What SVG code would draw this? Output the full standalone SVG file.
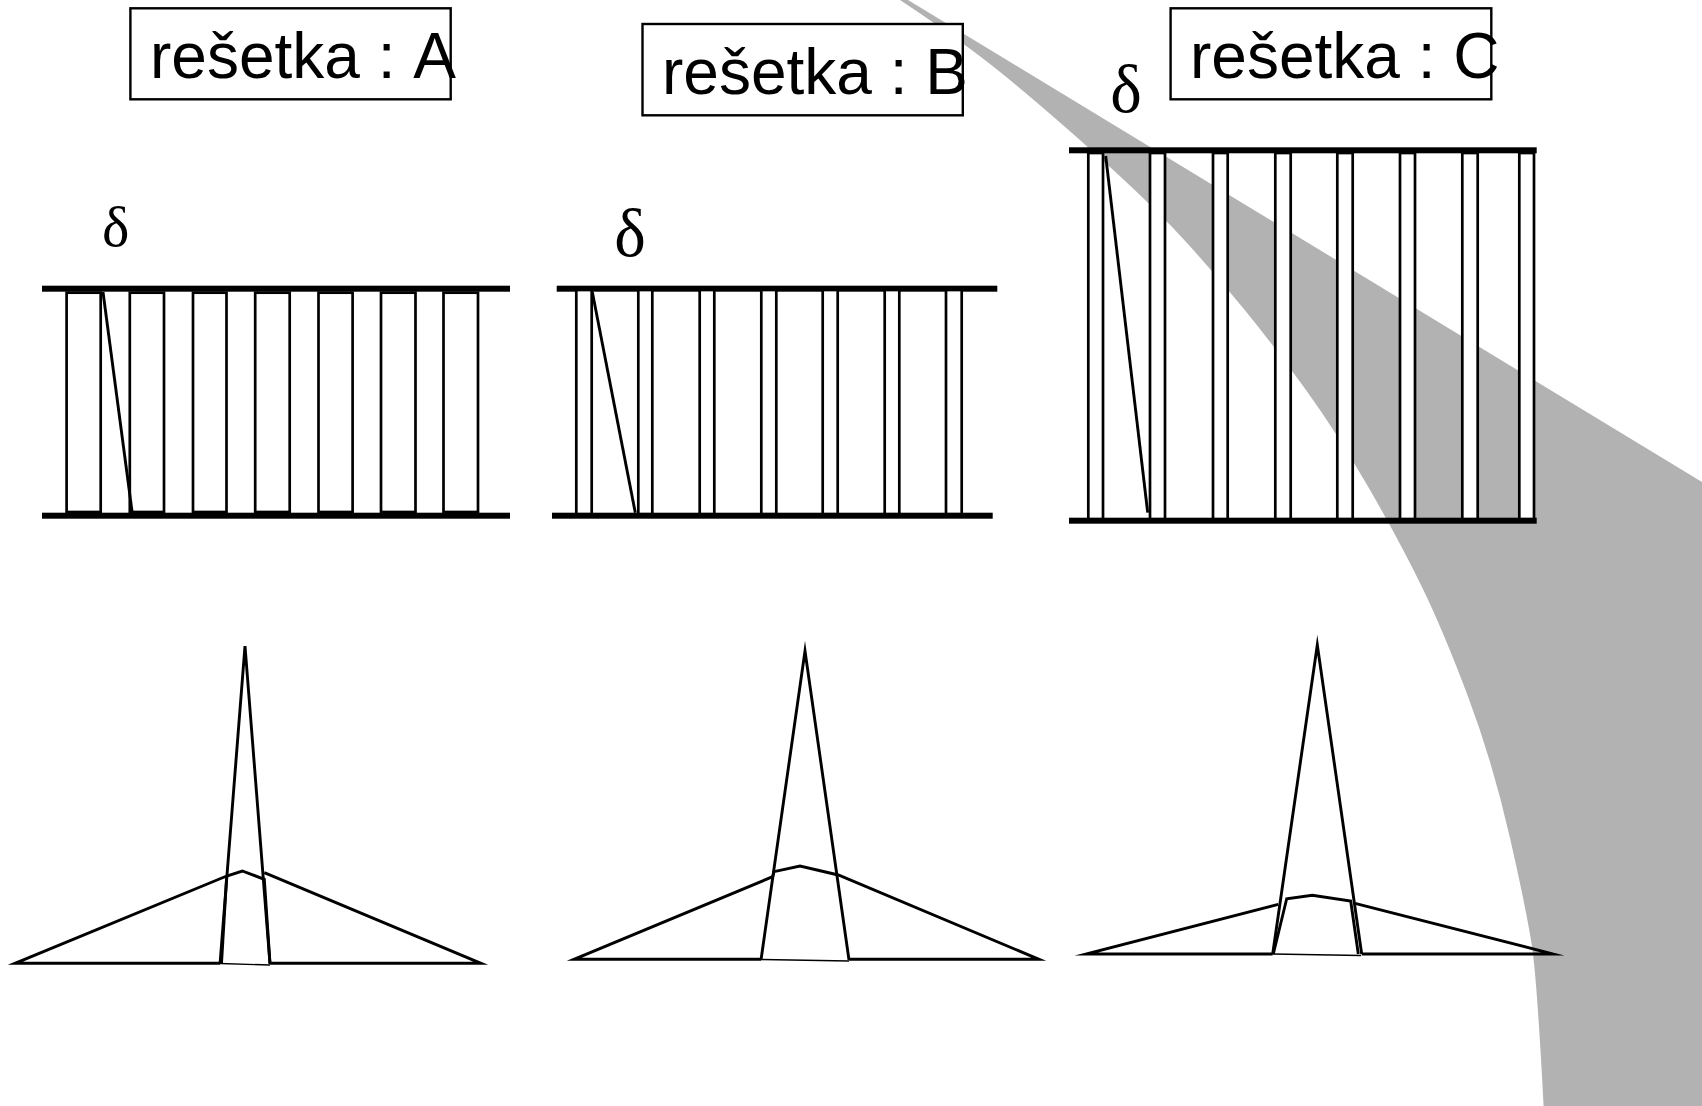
<svg xmlns="http://www.w3.org/2000/svg" width="1702" height="1106" viewBox="0 0 1702 1106">
<style>
.bar{fill:#000}
.slat{fill:#fff;stroke:#000;stroke-width:2.7}
.ln{fill:none;stroke:#000;stroke-width:2.9;stroke-miterlimit:10}
.thin{fill:none;stroke:#000;stroke-width:1.4}
.box{fill:#fff;stroke:#000;stroke-width:2.4}
.lbl{font-family:"Liberation Sans",Arial,sans-serif;font-size:64px;fill:#000;font-kerning:none}
.dl{font-family:"Liberation Serif","Times New Roman",serif;fill:#000;text-anchor:middle}
</style>
<rect width="1702" height="1106" fill="#fff"/>
<path id="band" fill="#b2b2b2" d="M908,0 L1702,482 V1106 H1543.6 Q1537,980 1532,946.5 Q1527,913 1510,838 Q1493,763 1468,696.5 Q1443,630 1421,585 Q1399,540 1368,486.5 Q1337,433 1306,390 Q1275,347 1243.5,308.5 Q1212,270 1181,236.5 Q1150,203 1100,158 Q1050,113 1007.5,78 Q965,43 900,0 Z"/>
<g id="label-a"><rect class="box" x="130.4" y="8.3" width="320.3" height="91"/><text class="lbl" x="150" y="78.3">rešetka : A</text></g>
<g id="label-b"><rect class="box" x="642.5" y="24" width="320.3" height="91.3"/><text class="lbl" x="662" y="94.3">rešetka : B</text></g>
<g id="label-c"><rect class="box" x="1170.6" y="8.3" width="320.7" height="91"/><text class="lbl" x="1190" y="78.3">rešetka : C</text></g>
<g id="grating-a">
<text class="dl" x="115.6" y="245.7" font-size="58">δ</text>
<rect class="bar" x="42" y="285.7" width="468" height="6"/>
<rect class="bar" x="42" y="512.7" width="468" height="6"/>
<rect class="slat" x="66.6" y="292.7" width="34.1" height="219.3"/>
<rect class="slat" x="129.8" y="292.7" width="34.2" height="219.3"/>
<rect class="slat" x="193" y="292.7" width="33.5" height="219.3"/>
<rect class="slat" x="255.2" y="292.7" width="34.5" height="219.3"/>
<rect class="slat" x="318.5" y="292.7" width="34.1" height="219.3"/>
<rect class="slat" x="381" y="292.7" width="34.5" height="219.3"/>
<rect class="slat" x="443.5" y="292.7" width="34.5" height="219.3"/>
<line class="ln" x1="103" y1="292" x2="132.2" y2="512.7"/>
</g>
<g id="grating-b">
<text class="dl" x="630" y="256" font-size="67">δ</text>
<rect class="bar" x="556.7" y="285.7" width="440.6" height="6"/>
<rect class="bar" x="552" y="512.7" width="440.7" height="6"/>
<rect class="slat" x="576.3" y="290" width="15.4" height="224"/>
<rect class="slat" x="638.3" y="290" width="14" height="224"/>
<rect class="slat" x="699.7" y="290" width="14.6" height="224"/>
<rect class="slat" x="761.3" y="290" width="15" height="224"/>
<rect class="slat" x="822.7" y="290" width="15" height="224"/>
<rect class="slat" x="884.7" y="290" width="14.6" height="224"/>
<rect class="slat" x="946" y="290" width="15.7" height="224"/>
<line class="ln" x1="592.3" y1="292" x2="635.3" y2="512.7"/>
</g>
<g id="grating-c">
<text class="dl" x="1126" y="111.7" font-size="67">δ</text>
<rect class="bar" x="1069" y="147.3" width="467.7" height="6"/>
<rect class="bar" x="1069" y="517.7" width="467.7" height="6"/>
<rect class="slat" x="1088.3" y="153" width="14.7" height="366"/>
<rect class="slat" x="1150" y="153" width="15" height="366"/>
<rect class="slat" x="1213" y="153" width="14.7" height="366"/>
<rect class="slat" x="1275.3" y="153" width="15.4" height="366"/>
<rect class="slat" x="1337.3" y="153" width="15.4" height="366"/>
<rect class="slat" x="1400" y="153" width="15" height="366"/>
<rect class="slat" x="1462.3" y="153" width="15.4" height="366"/>
<rect class="slat" x="1519.3" y="153" width="14.7" height="366"/>
<line class="ln" x1="1105.7" y1="156" x2="1147.7" y2="512.7"/>
</g>
<g id="profile-a">
<path class="ln" d="M220,964 L245,646 L270,964"/>
<path class="thin" d="M220,963.5 L270,965"/>
<path class="ln" d="M220,963.3 H15 L226.7,876 L242.3,871 L264.3,879.3 L270,963.3"/>
<path class="ln" d="M226.7,876 L221.5,963.3"/>
<path class="ln" d="M264.3,872.7 L481,963.3 H270"/>
</g>
<g id="profile-b">
<path class="ln" d="M761,960 L805,651 L849,960"/>
<path class="thin" d="M761,959.5 L849,961"/>
<path class="ln" d="M761,959.3 H574 L772.7,876.7 L774,871.7 L800,866 L838.3,875 L1039,959.3 H849"/>
</g>
<g id="profile-c">
<path class="ln" d="M1272.7,954 L1317.3,645 L1361.7,954"/>
<path class="thin" d="M1272.7,954 L1361,955.5"/>
<path class="ln" d="M1272.7,954 H1086 L1278.3,904.3"/>
<path class="ln" d="M1355,903.3 L1553,954 H1361.7"/>
<path class="ln" d="M1273.3,954 L1286.7,898.7 L1312.3,895.3 L1350.7,901 L1358.3,954"/>
</g>
</svg>
